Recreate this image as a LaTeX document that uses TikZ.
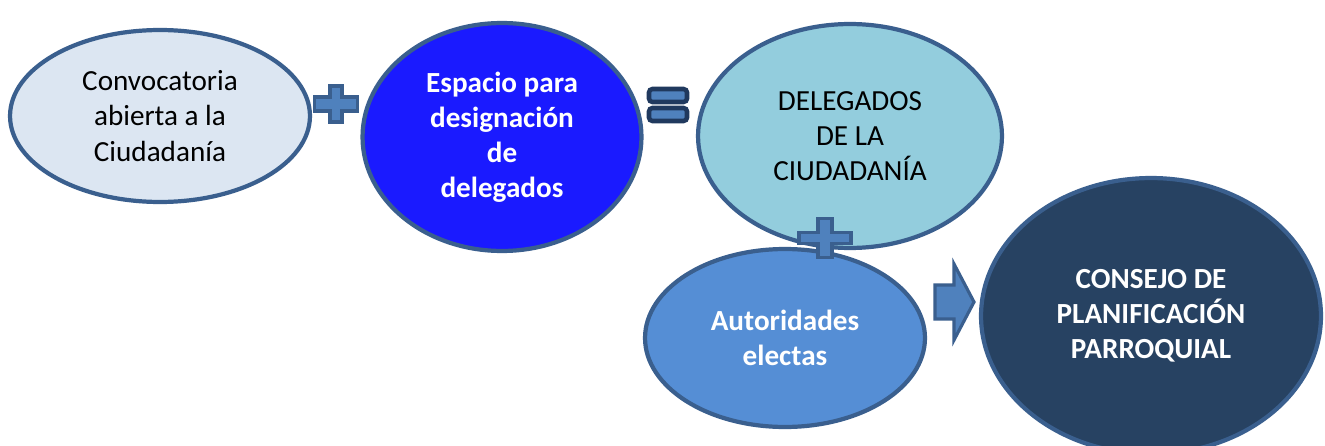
\documentclass[tikz,border=0pt]{standalone}
\usepackage{fontspec}
\setmainfont{Carlito}
\usetikzlibrary{shapes.geometric}

\definecolor{rimblue}{HTML}{3A5F8E}
\definecolor{signblue}{HTML}{4F81BD}
\definecolor{signrim}{HTML}{20395E}
\definecolor{paleblue}{HTML}{DCE6F2}
\definecolor{brightblue}{HTML}{1A1AFF}
\definecolor{aqua}{HTML}{93CDDD}
\definecolor{midblue}{HTML}{558ED5}
\definecolor{navy}{HTML}{274262}

\tikzset{
  bubble/.style={ellipse, draw=rimblue, line width=2.4pt, inner sep=0pt,
    align=center, font=\fontsize{16.6}{20}\selectfont},
  signshape/.style={draw=rimblue, fill=signblue, line width=2.2pt}
}

\begin{document}
\begin{tikzpicture}[x=0.02cm, y=-0.02cm]
    \clip (0,0) rectangle (1325,446);
    \fill[white] (0,0) rectangle (1325,446);

    \node[bubble, fill=paleblue, minimum width=6cm, minimum height=3.44cm] (conv) at (160,116)
        {Convocatoria\\abierta a la\\Ciudadanía};
    \node[bubble, fill=brightblue, text=white, minimum width=5.58cm, minimum height=4.56cm] (espacio) at (502,137)
        {\bfseries Espacio para\\\bfseries designación\\\bfseries de\\\bfseries delegados};
    \node[bubble, fill=aqua, minimum width=6.08cm, minimum height=4.48cm] (deleg) at (850,136)
        {DELEGADOS\\DE LA\\CIUDADANÍA};
    \node[bubble, fill=midblue, text=white, minimum width=5.6cm, minimum height=3.56cm] (autor) at (785,338)
        {\bfseries Autoridades\\\bfseries electas};
    \node[bubble, fill=navy, text=white, minimum width=6.8cm, minimum height=5.52cm] (consejo) at (1151,316)
        {\bfseries CONSEJO DE\\\bfseries PLANIFICACIÓN\\\bfseries PARROQUIAL};

    \coordinate (plusA) at (336,104);
    \coordinate (plusB) at (825,238);
    \coordinate (eq) at (668,105);
    \coordinate (go) at (955,302);

    % plus between the first two
    \begin{scope}[shift={(plusA)}]
        \draw[signshape] (-6,-18) -- (6,-18) -- (6,-7) -- (21.5,-7) -- (21.5,7) -- (6,7)
            -- (6,18) -- (-6,18) -- (-6,7) -- (-21.5,7) -- (-21.5,-7) -- (-6,-7) -- cycle;
    \end{scope}

    % equals
    \begin{scope}[shift={(eq)}]
        \draw[signshape, draw=signrim, line width=2.6pt, rounded corners=2pt] (-19,-16) rectangle (19,-3);
        \draw[signshape, draw=signrim, line width=2.6pt, rounded corners=2pt] (-19,3) rectangle (19,16);
    \end{scope}

    % plus between delegados and autoridades
    \begin{scope}[shift={(plusB)}]
        \draw[signshape] (-7,-19.5) -- (7,-19.5) -- (7,-5.5) -- (26,-5.5) -- (26,5.5) -- (7,5.5)
            -- (7,19.5) -- (-7,19.5) -- (-7,5.5) -- (-26,5.5) -- (-26,-5.5) -- (-7,-5.5) -- cycle;
    \end{scope}

    % arrow to the council
    \begin{scope}[shift={(go)}]
        \draw[signshape, line width=1.8pt] (-20,-17) -- (-1,-17) -- (-1,-38) -- (19,0) -- (-1,38)
            -- (-1,17) -- (-20,17) -- cycle;
    \end{scope}
\end{tikzpicture}
\end{document}
